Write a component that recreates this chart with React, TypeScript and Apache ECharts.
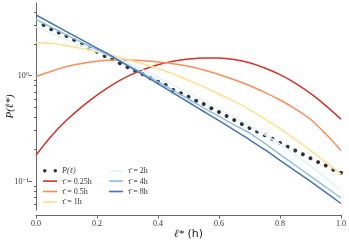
import React, { useEffect, useRef } from 'react';
import * as echarts from 'echarts';

// ℓ* grid for the model curves
const ELL = [0, 0.05, 0.1, 0.15, 0.2, 0.25, 0.3, 0.35, 0.4, 0.45, 0.5, 0.55, 0.6, 0.65, 0.7, 0.75, 0.8, 0.85, 0.9, 0.95, 1.0];

// empirical P(ℓ) points
const DOT_ELL = [0.025, 0.05, 0.075, 0.1, 0.125, 0.15, 0.175, 0.2, 0.225, 0.25, 0.275, 0.3, 0.325, 0.35, 0.375, 0.4, 0.425, 0.45, 0.475, 0.5, 0.525, 0.55, 0.575, 0.6, 0.625, 0.65, 0.675, 0.7, 0.725, 0.75, 0.775, 0.8, 0.825, 0.85, 0.875, 0.9, 0.925, 0.95, 0.975, 1.0];
const P_EMP = [3.01, 2.74, 2.55, 2.37, 2.17, 1.98, 1.81, 1.68, 1.53, 1.43, 1.31, 1.2, 1.11, 1.03, 0.941, 0.873, 0.813, 0.729, 0.678, 0.63, 0.577, 0.537, 0.489, 0.451, 0.413, 0.379, 0.347, 0.318, 0.294, 0.271, 0.252, 0.229, 0.211, 0.195, 0.179, 0.164, 0.151, 0.14, 0.128, 0.12];

const TAU_025 = [0.176, 0.266, 0.376, 0.505, 0.653, 0.817, 0.982, 1.135, 1.265, 1.365, 1.432, 1.469, 1.469, 1.419, 1.324, 1.18, 1.019, 0.847, 0.676, 0.519, 0.386];
const TAU_05 = [0.975, 1.096, 1.216, 1.303, 1.365, 1.4, 1.406, 1.387, 1.343, 1.294, 1.225, 1.13, 1.023, 0.912, 0.804, 0.692, 0.586, 0.484, 0.385, 0.279, 0.195];
const TAU_1 = [2.056, 2.009, 1.919, 1.807, 1.683, 1.549, 1.419, 1.294, 1.164, 1.033, 0.902, 0.78, 0.668, 0.569, 0.476, 0.389, 0.313, 0.248, 0.195, 0.151, 0.116];
const TAU_2 = [2.88, 2.51, 2.19, 1.93, 1.71, 1.5, 1.32, 1.13, 0.963, 0.813, 0.685, 0.576, 0.483, 0.404, 0.336, 0.276, 0.224, 0.178, 0.139, 0.107, 0.0822];
const TAU_4 = [3.4, 2.87, 2.43, 2.06, 1.76, 1.5, 1.26, 1.05, 0.872, 0.722, 0.599, 0.494, 0.411, 0.341, 0.285, 0.227, 0.179, 0.141, 0.111, 0.0877, 0.069];
const TAU_8 = [3.75, 3.13, 2.61, 2.18, 1.82, 1.52, 1.24, 1.02, 0.834, 0.683, 0.558, 0.456, 0.373, 0.303, 0.246, 0.198, 0.157, 0.125, 0.0991, 0.0781, 0.0612];

const SERIES_NAMES = ['τ̄ = 0.25h', 'τ̄ = 0.5h', 'τ̄ = 1h', 'τ̄ = 2h', 'τ̄ = 4h', 'τ̄ = 8h'];
const SERIES_VALUES = [TAU_025, TAU_05, TAU_1, TAU_2, TAU_4, TAU_8];
const SERIES_COLORS = ['#d73027', '#fc8d59', '#fee090', '#e0f3f8', '#91bfdb', '#4575b4'];
const DOT_NAME = 'P(ℓ)';

const Y_MAJOR = [0.1, 1];
const Y_MINOR = [0.06, 0.07, 0.08, 0.09, 0.2, 0.3, 0.4, 0.5, 0.6, 0.7, 0.8, 0.9, 2, 3, 4];
const Y_MIN = 0.0531;
const Y_MAX = 4.87;

const SERIF = '"Liberation Serif", "DejaVu Serif", serif';
const AXIS_COLOR = '#666';

export default function App() {
  const ref = useRef<HTMLDivElement>(null);
  useEffect(() => {
    const chart = echarts.init(ref.current!, null, { renderer: 'svg' });
    const twoDots = 'path://M0,1.5a1.5,1.5 0 1,0 3,0a1.5,1.5 0 1,0 -3,0M9,1.5a1.5,1.5 0 1,0 3,0a1.5,1.5 0 1,0 -3,0';
    const lineIcon = 'path://M0,0h12v1.4h-12z';
    const legendCommon = {
      orient: 'vertical' as const,
      itemWidth: 14,
      itemHeight: 8,
      itemGap: 0.4,
      padding: 0,
      selectedMode: false,
      textStyle: {
        fontFamily: SERIF,
        fontSize: 8,
        color: '#333',
        lineHeight: 10,
        rich: { i: { fontFamily: SERIF, fontSize: 8, fontStyle: 'italic' as const, color: '#333' } },
      },
      formatter: (n: string) => (n === DOT_NAME ? '{i|' + n + '}' : n),
    };
    const item = (n: string) => ({ name: n, icon: lineIcon });
    const option: any = {
      animation: false,
      grid: { left: 36, right: 8, top: 3, bottom: 32, containLabel: false, outerBoundsMode: 'none' },
      legend: [
        { ...legendCommon, left: 43, top: 165.7, data: [{ name: DOT_NAME, icon: twoDots }, item(SERIES_NAMES[0]), item(SERIES_NAMES[1]), item(SERIES_NAMES[2])] },
        { ...legendCommon, left: 109, top: 165.7, data: [item(SERIES_NAMES[3]), item(SERIES_NAMES[4]), item(SERIES_NAMES[5])] },
      ],
      xAxis: {
        type: 'value',
        min: 0,
        max: 1,
        interval: 0.2,
        offset: 5,
        axisLine: { show: true, lineStyle: { color: AXIS_COLOR, width: 1 } },
        axisTick: { show: true, inside: false, length: 3.5, lineStyle: { color: AXIS_COLOR } },
        splitLine: { show: false },
        axisLabel: {
          fontFamily: SERIF,
          fontSize: 8,
          color: '#333',
          margin: 4,
          formatter: (v: number) => v.toFixed(1),
        },
        name: '{l|ℓ*} {h|(h)}',
        nameLocation: 'middle',
        nameGap: 12,
        nameMoveOverlap: false,
        nameTextStyle: {
          rich: {
            l: { fontFamily: SERIF, fontStyle: 'italic', fontSize: 11, color: '#222' },
            h: { fontFamily: '"DejaVu Sans", sans-serif', fontSize: 11, color: '#222' },
          },
        },
      },
      yAxis: [
        {
          type: 'log',
          logBase: 10,
          min: Y_MIN,
          max: Y_MAX,
          position: 'left',
          offset: 4,
          axisLine: { show: true, lineStyle: { color: AXIS_COLOR, width: 1 } },
          axisTick: { show: true, inside: false, length: 2, customValues: Y_MINOR, lineStyle: { color: AXIS_COLOR } },
          axisLabel: { show: false },
          splitLine: { show: false },
          minorTick: { show: false },
        },
        {
          type: 'log',
          logBase: 10,
          min: Y_MIN,
          max: Y_MAX,
          position: 'left',
          offset: 4,
          axisLine: { show: false },
          axisTick: { show: true, inside: false, length: 3.5, customValues: Y_MAJOR, lineStyle: { color: AXIS_COLOR } },
          axisLabel: {
            customValues: Y_MAJOR,
            fontFamily: SERIF,
            fontSize: 8,
            color: '#333',
            margin: 3,
            formatter: (v: number) => (Math.abs(Math.log10(v)) < 1e-6 ? '10⁰' : '10⁻¹'),
          },
          splitLine: { show: false },
          name: 'P(ℓ*)',
          nameLocation: 'middle',
          nameGap: 18,
          nameMoveOverlap: false,
          nameRotate: 90,
          nameTextStyle: { fontFamily: SERIF, fontStyle: 'italic', fontSize: 11, color: '#222' },
        },
      ],
      series: [
        {
          name: DOT_NAME,
          type: 'scatter',
          yAxisIndex: 0,
          symbol: 'circle',
          symbolSize: 4,
          itemStyle: { color: '#000' },
          data: DOT_ELL.map((x, i) => [x, P_EMP[i]]),
          z: 1,
        },
        ...SERIES_NAMES.map((name, k) => ({
          name,
          type: 'line',
          yAxisIndex: 0,
          showSymbol: false,
          symbol: 'none',
          smooth: 0.3,
          color: SERIES_COLORS[k],
          lineStyle: { color: SERIES_COLORS[k], width: 1.5 },
          data: ELL.map((x, i) => [x, SERIES_VALUES[k][i]]),
          z: 2,
        })),
      ],
    };
    chart.setOption(option);
    return () => chart.dispose();
  }, []);
  return <div ref={ref} style={{ position: 'fixed', left: 0, top: 0, width: 349, height: 242 }} />;
}
